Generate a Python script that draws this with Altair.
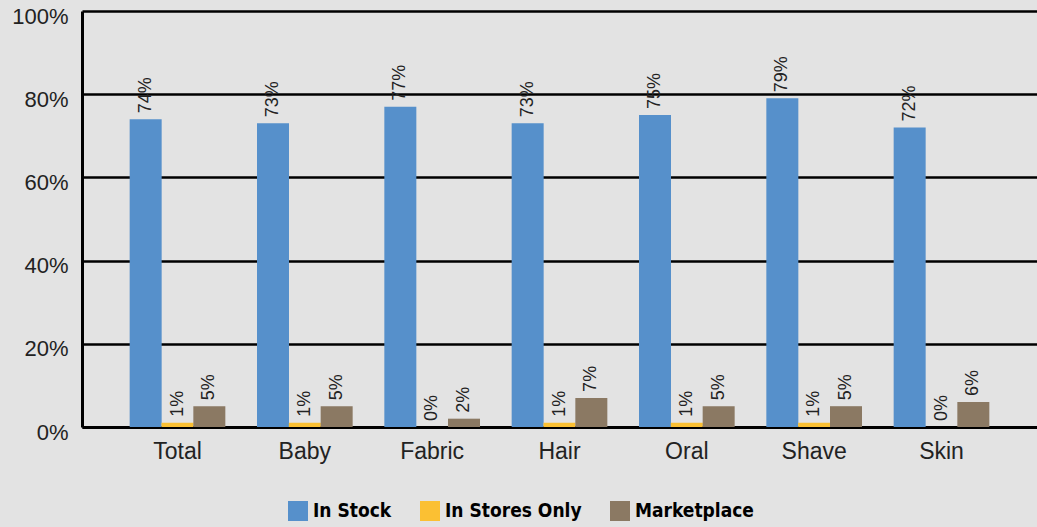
import altair as alt
import pandas as pd

categories = ["Total", "Baby", "Fabric", "Hair", "Oral", "Shave", "Skin"]
series = ["In Stock", "In Stores Only", "Marketplace"]
in_stock = [74, 73, 77, 73, 75, 79, 72]
in_stores_only = [1, 1, 0, 1, 1, 1, 0]
marketplace = [5, 5, 2, 7, 5, 5, 6]
colors = ["#5690cb", "#fbc033", "#8b7963"]

rows = []
for vals, s in zip([in_stock, in_stores_only, marketplace], series):
    for c, v in zip(categories, vals):
        rows.append({"category": c, "series": s, "value": v, "label": f"{v}%"})
df = pd.DataFrame(rows)

FONT = "Liberation Sans"
LEGEND_FONT = "'DejaVu Sans Condensed', 'Liberation Sans', sans-serif"

x = alt.X("category:N", sort=categories, title=None,
          scale=alt.Scale(paddingInner=0, paddingOuter=0.25),
          axis=alt.Axis(labelAngle=0, labelFont=FONT, labelFontSize=23, labelColor="#222222",
                        labelPadding=13, ticks=False, domainColor="black", domainWidth=3,
                        grid=False))
xoff = alt.XOffset("series:N", sort=series,
                   scale=alt.Scale(paddingInner=0, paddingOuter=0.5))
y = alt.Y("value:Q", title=None,
          scale=alt.Scale(domain=[0, 100]),
          axis=alt.Axis(values=[0, 20, 40, 60, 80, 100], labelExpr="datum.value + '%'",
                        labelFont=FONT, labelFontSize=22, labelColor="#222222",
                        labelPadding=14, labelOffset=5, ticks=False,
                        domainColor="black", domainWidth=3,
                        gridColor="black", gridWidth=2.5, gridOpacity=1))

bars = alt.Chart(df).mark_bar(size=32).encode(
    x=x, xOffset=xoff, y=y,
    color=alt.Color("series:N", sort=series,
                    scale=alt.Scale(domain=series, range=colors),
                    legend=alt.Legend(title=None, orient="none", direction="horizontal",
                                      legendX=206, legendY=490,
                                      symbolType="square", symbolSize=400,
                                      symbolStrokeWidth=0, symbolOpacity=1,
                                      labelFont=LEGEND_FONT, labelFontWeight="bold",
                                      labelFontSize=19, labelColor="black", labelOffset=5,
                                      columnPadding=28, labelLimit=300)),
)

labels = alt.Chart(df).mark_text(angle=270, align="left", baseline="middle", dx=6,
                                 font=FONT, fontSize=18, color="#222222").encode(
    x=x, xOffset=xoff, y=y, text="label:N"
)

chart = alt.layer(bars, labels).properties(
    width=955, height=416,
    padding={"left": 82, "top": 11, "right": 0, "bottom": 100},
    autosize=alt.AutoSizeParams(type="none"),
    background="#e3e3e3",
).configure_view(stroke=None)

chart.save("out.html", embed_options={"renderer": "svg", "actions": False})
